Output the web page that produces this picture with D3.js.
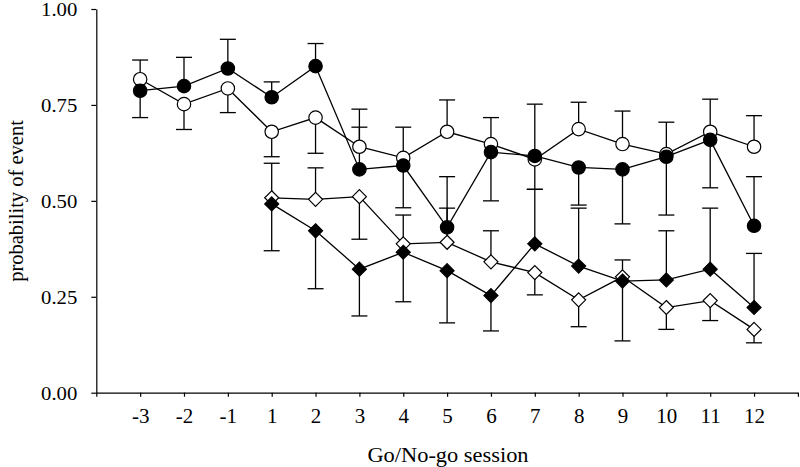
<!DOCTYPE html>
<html><head><meta charset="utf-8">
<script src="https://cdn.jsdelivr.net/npm/d3@7"></script>
<style>body{margin:0;background:#fff}svg{display:block}text{font-family:"Liberation Serif","Times New Roman",serif;fill:#000}</style>
</head><body><svg id="c" width="800" height="467"></svg>
<script>
const sessions = ["-3","-2","-1","1","2","3","4","5","6","7","8","9","10","11","12"];
const yTicks = [0, 0.25, 0.5, 0.75, 1.0];

// open circles
const openCircle = [0.817,0.752,0.793,0.680,0.717,0.641,0.612,0.680,0.648,0.608,0.687,0.648,0.622,0.680,0.641];
const openCircleErr = [0.867,0.686,0.730,0.615,0.624,0.692,0.692,0.763,0.717,0.530,0.757,0.734,0.705,0.765,0.722];
// filled circles
const filledCircle = [0.787,0.799,0.845,0.770,0.851,0.582,0.592,0.431,0.627,0.617,0.587,0.582,0.615,0.659,0.435];
const filledCircleErr = [0.717,0.874,0.921,0.810,0.910,0.739,0.482,0.563,0.500,0.752,0.489,0.440,0.463,0.534,0.563];
// open diamonds
const openDiamond = [null,null,null,0.508,0.504,0.511,0.388,0.392,0.341,0.313,0.242,0.302,0.222,0.240,0.165];
const openDiamondErr = [null,null,null,0.598,0.586,0.400,0.463,0.481,0.422,0.255,0.172,0.346,0.165,0.188,0.130];
// filled diamonds
const filledDiamond = [null,null,null,0.492,0.422,0.322,0.366,0.318,0.253,0.388,0.330,0.291,0.294,0.322,0.222];
const filledDiamondErr = [null,null,null,0.370,0.271,0.200,0.237,0.182,0.161,0.530,0.481,0.135,0.422,0.481,0.363];

const series = [
  {vals: openCircle, err: openCircleErr, shape: "circle", fill: "#fff"},
  {vals: openDiamond, err: openDiamondErr, shape: "diamond", fill: "#fff"},
  {vals: filledCircle, err: filledCircleErr, shape: "circle", fill: "#000"},
  {vals: filledDiamond, err: filledDiamondErr, shape: "diamond", fill: "#000"}
];

const svg = d3.select("#c");
const x = d3.scaleLinear().domain([-1, sessions.length]).range([96.3, 797.9]);
const y = d3.scaleLinear().domain([0, 1]).range([392.7, 9]);

function stretch(sel, f) {
  sel.each(function() {
    const l = this.getComputedTextLength();
    if (l > 0) d3.select(this).attr("textLength", l * f).attr("lengthAdjust", "spacingAndGlyphs");
  });
}

// axes
const xAxis = d3.axisBottom(x).tickValues(d3.range(-1, sessions.length + 1))
  .tickFormat(i => (i >= 0 && i < sessions.length) ? sessions[i] : "")
  .tickSize(4).tickSizeOuter(0).tickPadding(12);
const gx = svg.append("g").attr("transform", `translate(0,${y(0)})`).call(xAxis);
gx.selectAll("text").attr("font-size", 20).attr("font-family", "Liberation Serif");
gx.selectAll("line,path").attr("stroke", "#000").attr("stroke-width", 1.2);
stretch(gx.selectAll("text"), 1.05);

const yAxis = d3.axisLeft(y).tickValues(yTicks).tickFormat(d3.format(".2f"))
  .tickSize(5).tickSizeOuter(0).tickPadding(14);
const gy = svg.append("g").attr("transform", `translate(${x(-1)},0)`).call(yAxis);
gy.selectAll("text").attr("font-size", 18.5).attr("font-family", "Liberation Serif").attr("dy", "0.36em");
gy.selectAll("line,path").attr("stroke", "#000").attr("stroke-width", 1.2);
stretch(gy.selectAll("text"), 1.12);

const xt = svg.append("text").attr("x", 448).attr("y", 462).attr("text-anchor", "middle")
  .attr("font-size", 20).text("Go/No-go session");
stretch(xt, 1.12);
const yt = svg.append("text").attr("transform", "translate(23,201) rotate(-90)").attr("text-anchor", "middle")
  .attr("font-size", 20.5).text("probability of event");

const plot = svg.append("g");
const capW = 8;
// error bars
series.forEach(s => {
  s.vals.forEach((v, i) => {
    const e = s.err[i];
    if (v == null || e == null) return;
    plot.append("line").attr("x1", x(i)).attr("x2", x(i)).attr("y1", y(v)).attr("y2", y(e))
      .attr("stroke", "#000").attr("stroke-width", 1.3);
    plot.append("line").attr("x1", x(i) - capW).attr("x2", x(i) + capW).attr("y1", y(e)).attr("y2", y(e))
      .attr("stroke", "#000").attr("stroke-width", 1.3);
  });
});
// lines
const line = d3.line().defined(d => d[1] != null).x(d => x(d[0])).y(d => y(d[1]));
series.forEach(s => {
  plot.append("path").attr("d", line(s.vals.map((v, i) => [i, v])))
    .attr("fill", "none").attr("stroke", "#000").attr("stroke-width", 1.3);
});
// markers
series.forEach(s => {
  s.vals.forEach((v, i) => {
    if (v == null) return;
    if (s.shape === "circle") {
      plot.append("circle").attr("cx", x(i)).attr("cy", y(v)).attr("r", 6.7)
        .attr("fill", s.fill).attr("stroke", "#000").attr("stroke-width", 1.2);
    } else {
      const cx = x(i), cy = y(v), r = 7;
      plot.append("path").attr("d", `M${cx},${cy - r}L${cx + r},${cy}L${cx},${cy + r}L${cx - r},${cy}Z`)
        .attr("fill", s.fill).attr("stroke", "#000").attr("stroke-width", 1.2);
    }
  });
});
</script></body></html>
